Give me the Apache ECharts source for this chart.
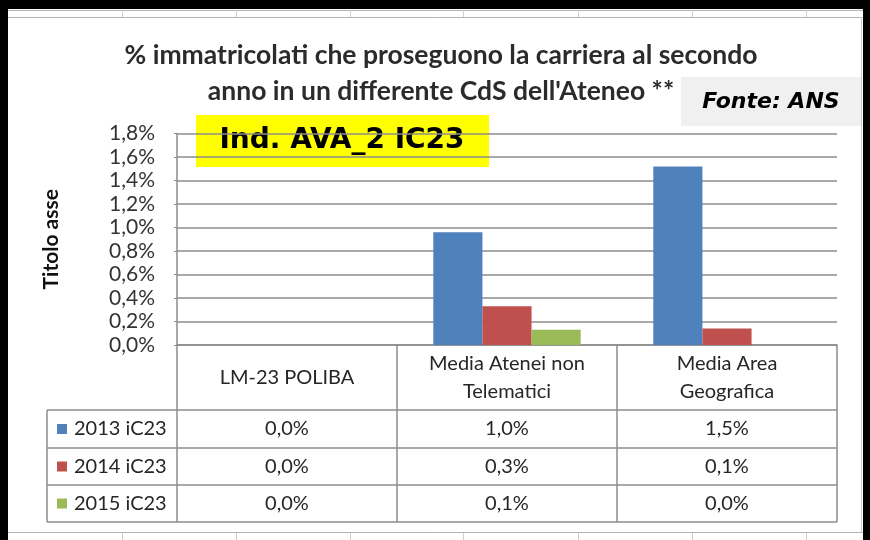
<!DOCTYPE html>
<html>
<head>
<meta charset="utf-8">
<script src="https://cdn.jsdelivr.net/npm/echarts@6/dist/echarts.min.js"></script>
<style>
  html, body { margin: 0; padding: 0; background: #fff; }
  #main { width: 870px; height: 540px; }
</style>
</head>
<body>
<div id="main"></div>
<script>
// data (values in %)
var categories = ["LM-23 POLIBA", "Media Atenei non\nTelematici", "Media Area\nGeografica"];
var seriesNames = ["2013 iC23", "2014 iC23", "2015 iC23"];
var values2013 = [0, 0.96, 1.52];
var values2014 = [0, 0.33, 0.14];
var values2015 = [0, 0.13, 0];
var colors = ["#4F81BD", "#C0504D", "#9BBB59"];

var allValues = [values2013, values2014, values2015];

var chartDom = document.getElementById("main");
var myChart = echarts.init(chartDom);
var option;

// layout of plot area / table
var plotLeft = 177, plotRight = 837, plotTop = 133.5, plotBottom = 345;
var bandW = (plotRight - plotLeft) / categories.length;
var tableLeft = 47;
var rowLines = [410, 448, 485, 522];
var lineColor = "#8c8c8c";
var font = "Lato, 'Open Sans', sans-serif";

function pct(v) {
  return v.toFixed(1).replace(".", ",") + "%";
}

var graphics = [];

// spreadsheet cell lines around the chart
graphics.push({ type: "rect", shape: { x: 0, y: 0, width: 870, height: 9 }, style: { fill: "#000" }, silent: true });
graphics.push({ type: "rect", shape: { x: 0, y: 0, width: 8, height: 540 }, style: { fill: "#000" }, silent: true });
graphics.push({ type: "rect", shape: { x: 863, y: 0, width: 7, height: 540 }, style: { fill: "#000" }, silent: true });
[10.5, 17.5].forEach(function (y) {
  graphics.push({ type: "line", shape: { x1: 8, y1: y, x2: 863, y2: y }, style: { stroke: "#b4b4b4", lineWidth: 1 }, silent: true });
});
graphics.push({ type: "line", shape: { x1: 8, y1: 532.5, x2: 863, y2: 532.5 }, style: { stroke: "#b4b4b4", lineWidth: 1 }, silent: true });
graphics.push({ type: "line", shape: { x1: 861.5, y1: 17, x2: 861.5, y2: 533 }, style: { stroke: "#c8c8c8", lineWidth: 1 }, silent: true });
[122, 236, 350, 463, 578, 692, 806].forEach(function (x) {
  graphics.push({ type: "line", shape: { x1: x + 0.5, y1: 10, x2: x + 0.5, y2: 17 }, style: { stroke: "#d0d0d0", lineWidth: 1 }, silent: true });
  graphics.push({ type: "line", shape: { x1: x + 0.5, y1: 533, x2: x + 0.5, y2: 540 }, style: { stroke: "#d0d0d0", lineWidth: 1 }, silent: true });
});

// data table lines
for (var c = 0; c <= categories.length; c++) {
  var x = plotLeft + c * bandW;
  graphics.push({ type: "line", shape: { x1: x, y1: plotBottom, x2: x, y2: rowLines[3] }, style: { stroke: lineColor, lineWidth: 1.5 }, silent: true });
}
graphics.push({ type: "line", shape: { x1: tableLeft, y1: rowLines[0], x2: tableLeft, y2: rowLines[3] }, style: { stroke: lineColor, lineWidth: 1.5 }, silent: true });
rowLines.forEach(function (y) {
  graphics.push({ type: "line", shape: { x1: tableLeft, y1: y, x2: plotRight, y2: y }, style: { stroke: lineColor, lineWidth: 1.5 }, silent: true });
});

// data table rows: legend key + values
seriesNames.forEach(function (name, r) {
  var cy = (rowLines[r] + rowLines[r + 1]) / 2;
  graphics.push({ type: "rect", shape: { x: 57, y: cy - 5, width: 10, height: 10 }, style: { fill: colors[r] }, silent: true });
  graphics.push({ type: "text", x: 74, y: cy, style: { text: name, font: "20px " + font, fill: "#262626", verticalAlign: "middle" }, silent: true });
  allValues[r].forEach(function (v, c) {
    graphics.push({
      type: "text", x: plotLeft + (c + 0.5) * bandW, y: cy,
      style: { text: pct(v), font: "20px " + font, fill: "#262626", align: "center", verticalAlign: "middle" },
      silent: true
    });
  });
});

// boxes
graphics.push({ type: "rect", shape: { x: 196, y: 115, width: 293, height: 52 }, style: { fill: "#ffff00" }, silent: true });
graphics.push({ type: "text", x: 342, y: 141, style: { text: "Ind. AVA_2 IC23", font: "bold 28px 'DejaVu Sans'", fill: "#000", align: "center", verticalAlign: "middle" }, silent: true });
graphics.push({ type: "rect", shape: { x: 681, y: 77, width: 180, height: 49 }, style: { fill: "#f0f0f0" }, silent: true });
graphics.push({ type: "text", x: 771, y: 102, style: { text: "Fonte: ANS", font: "italic bold 22px 'DejaVu Sans'", fill: "#000", align: "center", verticalAlign: "middle" }, silent: true });

option = {
  backgroundColor: "#fff",
  animation: false,
  color: colors,
  title: {
    text: "% immatricolati che proseguono la carriera al secondo\nanno in un differente CdS dell'Ateneo **",
    left: 436,
    textAlign: "center",
    top: 32,
    textStyle: {
      fontFamily: font,
      fontWeight: "bold",
      fontSize: 26.5,
      lineHeight: 36,
      color: "#2b2b2b"
    }
  },
  grid: {
    left: plotLeft,
    top: plotTop,
    width: plotRight - plotLeft,
    height: plotBottom - plotTop
  },
  xAxis: {
    type: "category",
    data: categories,
    axisLine: { lineStyle: { color: lineColor, width: 1.5 } },
    axisTick: { show: false },
    axisLabel: {
      margin: 33,
      verticalAlign: "middle",
      lineHeight: 28,
      fontFamily: font,
      fontSize: 20,
      color: "#262626"
    }
  },
  yAxis: {
    type: "value",
    min: 0,
    max: 1.8,
    interval: 0.2,
    name: "Titolo asse",
    nameLocation: "middle",
    nameGap: 115,
    nameTextStyle: { fontFamily: font, fontWeight: "bold", fontSize: 21, color: "#111" },
    axisLine: { show: true, lineStyle: { color: lineColor, width: 1.5 } },
    axisTick: { show: true, length: 3, lineStyle: { color: lineColor } },
    splitLine: { lineStyle: { color: lineColor, width: 1.5 } },
    axisLabel: {
      margin: 22,
      fontFamily: font,
      fontSize: 21,
      color: "#333",
      formatter: function (v) { return pct(v); }
    }
  },
  series: seriesNames.map(function (name, i) {
    return {
      name: name,
      type: "bar",
      data: allValues[i],
      barGap: "0%",
      barCategoryGap: "33%",
      itemStyle: { color: colors[i] }
    };
  }),
  graphic: graphics
};

option && myChart.setOption(option);
</script>
</body>
</html>
